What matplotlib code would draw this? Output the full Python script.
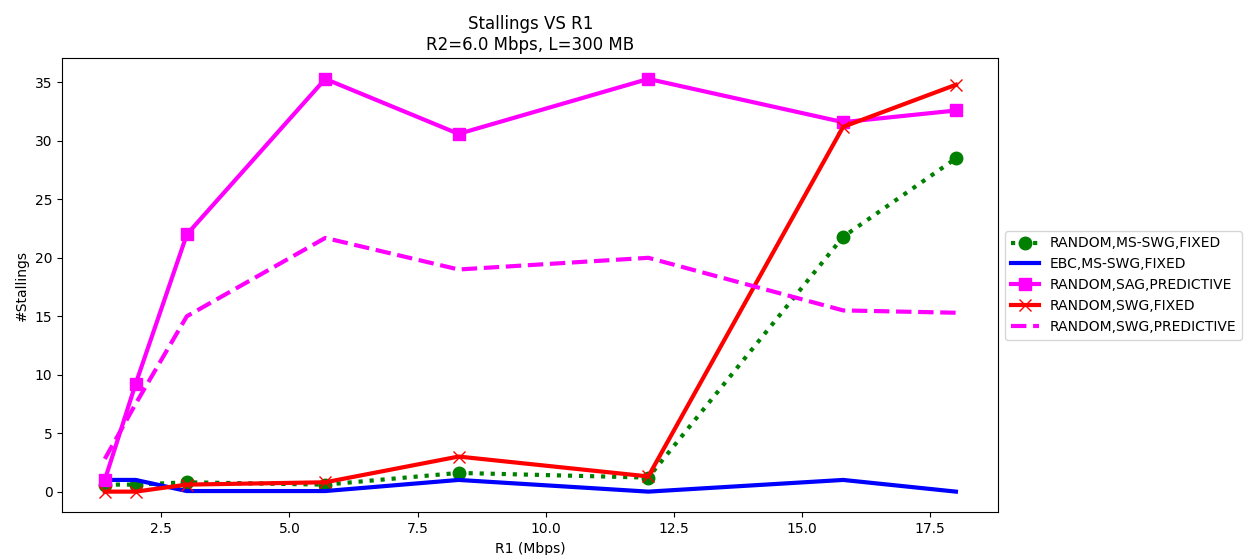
import matplotlib
matplotlib.use("Agg")
import matplotlib.pyplot as plt

# R1 values (Mbps)
r1 = [1.4, 2.0, 3.0, 5.7, 8.3, 12.0, 15.8, 18.0]

# stallings per configuration
random_msswg_fixed = [0.6, 0.6, 0.8, 0.6, 1.6, 1.2, 21.8, 28.5]
ebc_msswg_fixed = [1.0, 1.0, 0.05, 0.05, 1.0, 0.0, 1.0, 0.0]
random_sag_pred = [1.0, 9.2, 22.0, 35.3, 30.6, 35.3, 31.6, 32.6]
random_swg_fixed = [0.0, 0.0, 0.6, 0.8, 3.0, 1.3, 31.2, 34.8]
random_swg_pred = [2.8, 7.5, 15.0, 21.7, 19.0, 20.0, 15.5, 15.3]

fig, ax = plt.subplots(figsize=(12.45, 5.55), dpi=100)

ax.plot(r1, random_msswg_fixed, color="green", linestyle=":", linewidth=3,
        marker="o", markersize=9, label="RANDOM,MS-SWG,FIXED")
ax.plot(r1, ebc_msswg_fixed, color="blue", linestyle="-", linewidth=3,
        label="EBC,MS-SWG,FIXED")
ax.plot(r1, random_sag_pred, color="magenta", linestyle="-", linewidth=3,
        marker="s", markersize=9, label="RANDOM,SAG,PREDICTIVE")
ax.plot(r1, random_swg_fixed, color="red", linestyle="-", linewidth=3,
        marker="x", markersize=9, label="RANDOM,SWG,FIXED")
ax.plot(r1, random_swg_pred, color="magenta", linestyle="--", linewidth=3,
        label="RANDOM,SWG,PREDICTIVE")

ax.set_title("Stallings VS R1\nR2=6.0 Mbps, L=300 MB")
ax.set_xlabel("R1 (Mbps)")
ax.set_ylabel("#Stallings")
ax.legend(loc="center left", bbox_to_anchor=(1.0, 0.5))

fig.subplots_adjust(left=0.05, right=0.802, top=0.895, bottom=0.077)
fig.savefig("out.png", dpi=100)
